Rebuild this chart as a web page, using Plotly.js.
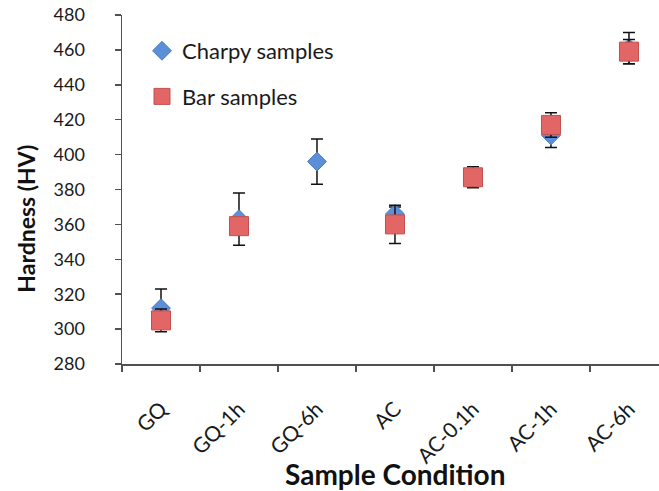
<!DOCTYPE html>
<html>
<head>
<meta charset="utf-8">
<script src="https://cdn.plot.ly/plotly-3.0.1.min.js"></script>
<style>html,body{margin:0;padding:0;background:#fff;}#chart{width:659px;height:491px;}</style>
</head>
<body>
<div id="chart"></div>
<script>
var categories = ['GQ', 'GQ-1h', 'GQ-6h', 'AC', 'AC-0.1h', 'AC-1h', 'AC-6h'];
var charpyValues = [312, 363, 396, 366, null, 411, 461];
var charpyErrors = [11, 15, 13, 4, null, 7, 9];
var barValues = [305, 359, null, 360, 387, 417, 459];
var barErrors = [6.5, 4, null, 11, 6, 7, 7];
var yTicks = [280, 300, 320, 340, 360, 380, 400, 420, 440, 460, 480];

var FONT = 'Lato, "Open Sans", sans-serif';
var W = 659, H = 491, L = 122, T = 15, PB = 364.5;
function px2x(px) { return (px - L) / (W - L); }
function px2y(py) { return (PB - py) / (PB - T); }

var traces = [
  {
    type: 'scatter', mode: 'markers', name: 'Charpy samples',
    x: categories, y: charpyValues,
    legendgroup: 'a',
    marker: {symbol: 'diamond', size: 14.5, color: '#5b90d8', line: {color: '#4a7cc0', width: 1}},
    error_y: {type: 'data', array: charpyErrors, visible: true, color: '#111', thickness: 1.5, width: 6}
  },
  {
    type: 'scatter', mode: 'markers', name: 'Bar samples',
    x: categories, y: barValues,
    legendgroup: 'b',
    marker: {symbol: 'square', size: 19, color: '#e36666', line: {color: '#c0504d', width: 1}},
    error_y: {type: 'data', array: barErrors, visible: true, color: '#111', thickness: 1.5, width: 6}
  }
];

var layout = {
  width: W, height: H,
  margin: {l: L, r: 0, t: T, b: H - PB},
  paper_bgcolor: '#fff', plot_bgcolor: '#fff',
  font: {family: FONT, size: 17, color: '#1a1a1a'},
  showlegend: true,
  legend: {
    x: px2x(142), y: px2y(30), xanchor: 'left', yanchor: 'top',
    font: {family: FONT, size: 22, color: '#1a1a1a'},
    bgcolor: 'rgba(0,0,0,0)', tracegroupgap: 14
  },
  xaxis: {
    type: 'category', categoryorder: 'array', categoryarray: categories,
    range: [-0.5, 6.385], tickson: 'boundaries',
    showline: true, linecolor: '#505050', linewidth: 1.5,
    ticks: 'outside', ticklen: 6, tickwidth: 1.5, tickcolor: '#505050',
    tickangle: -45, ticklabelstandoff: 23,
    tickfont: {family: FONT, size: 21, color: '#1a1a1a'},
    showgrid: false, zeroline: false, fixedrange: true
  },
  yaxis: {
    range: [280, 480], tickvals: yTicks, ticktext: yTicks.map(String),
    showline: true, linecolor: '#505050', linewidth: 1.5,
    ticks: 'outside', ticklen: 6, tickwidth: 1.5, tickcolor: '#505050',
    ticklabelstandoff: 26,
    tickfont: {family: FONT, size: 18, color: '#1a1a1a'},
    showgrid: false, zeroline: false, fixedrange: true
  },
  annotations: [
    {text: '<b>Hardness (HV)</b>', xref: 'paper', yref: 'paper', x: px2x(26), y: px2y(219),
     xanchor: 'center', yanchor: 'middle', textangle: -90, showarrow: false,
     font: {family: FONT, size: 23, color: '#111'}},
    {text: '<b>Sample Condition</b>', xref: 'paper', yref: 'paper', x: px2x(395), y: px2y(475),
     xanchor: 'center', yanchor: 'middle', showarrow: false,
     font: {family: FONT, size: 28, color: '#111'}}
  ]
};

Plotly.newPlot('chart', traces, layout, {displayModeBar: false, staticPlot: true});
</script>
</body>
</html>
